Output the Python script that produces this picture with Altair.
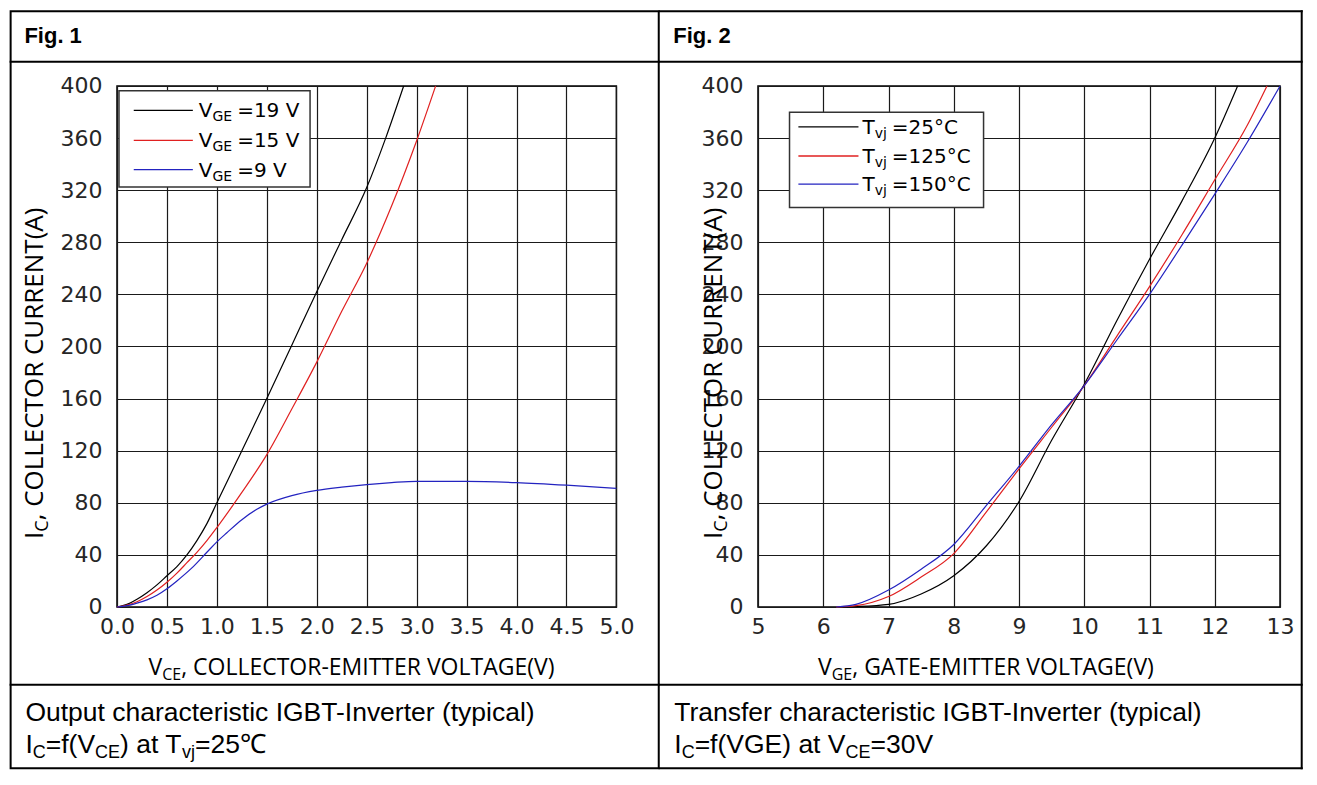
import altair as alt
import pandas as pd

# ---------------- data ----------------
# Fig. 1  Output characteristic: I_C vs V_CE
fig1_names = ["VGE=19 V", "VGE=15 V", "VGE=9 V"]
fig1_colors = ["#000000", "#e02020", "#2323c0"]
vce_19 = [0, 0.1, 0.2, 0.3, 0.4, 0.5, 0.6, 0.7, 0.8, 0.9, 1.0, 1.25, 1.5, 1.75, 2.0, 2.25, 2.5, 2.69, 2.87]
ic_19 = [0, 2, 6, 11, 17, 24, 31, 40, 51, 64, 80, 120, 160, 201, 242, 282, 322, 360, 400]
vce_15 = [0, 0.1, 0.2, 0.3, 0.4, 0.5, 0.6, 0.7, 0.8, 0.9, 1.0, 1.25, 1.5, 1.75, 2.0, 2.25, 2.5, 2.75, 3.0, 3.19]
ic_15 = [0, 1.5, 4, 8, 13, 19, 26, 34, 42, 51, 61, 88, 117, 152, 188, 227, 264, 308, 358, 400]
vce_9 = [0, 0.1, 0.2, 0.3, 0.4, 0.5, 0.6, 0.75, 0.9, 1.0, 1.1, 1.25, 1.4, 1.5, 1.75, 2.0,
         2.25, 2.5, 2.75, 3.0, 3.5, 4.0, 4.5, 5.0]
ic_9 = [0, 1, 3, 5.5, 9, 14, 20, 30, 42, 50, 57, 67, 75, 79, 85.5, 89.5,
        92, 94, 95.5, 96.5, 96.5, 95.5, 93.5, 91]
fig1_legend_main = ["V", "V", "V"]
fig1_legend_sub = ["GE", "GE", "GE"]
fig1_legend_rest = ["=19 V", "=15 V", "=9 V"]
fig1_xticks = [0.0, 0.5, 1.0, 1.5, 2.0, 2.5, 3.0, 3.5, 4.0, 4.5, 5.0]

# Fig. 2  Transfer characteristic: I_C vs V_GE
fig2_names = ["Tvj=25C", "Tvj=125C", "Tvj=150C"]
fig2_colors = ["#000000", "#e02020", "#2323c0"]
vge_25 = [6.3, 6.5, 7.0, 7.5, 8.0, 8.5, 9.0, 9.5, 10.0, 10.5, 11.0, 11.5, 12.0, 12.35]
ic_25 = [0, 0.3, 2, 10, 24, 47, 81, 128, 171, 220, 267, 312, 360, 400]
vge_125 = [6.2, 6.5, 7.0, 7.5, 8.0, 8.5, 9.0, 9.5, 10.0, 10.5, 11.0, 11.5, 12.0, 12.5, 12.8]
ic_125 = [0, 1, 8, 23, 41, 73, 106, 138, 170, 208, 246, 286, 328, 370, 400]
vge_150 = [6.2, 6.5, 7.0, 7.5, 8.0, 8.5, 9.0, 9.5, 10.0, 10.5, 11.0, 11.5, 12.0, 12.5, 13.0]
ic_150 = [0, 2, 13, 29, 48, 78, 108, 140, 170, 205, 240, 278, 317, 357, 400]
fig2_legend_main = ["T", "T", "T"]
fig2_legend_sub = ["vj", "vj", "vj"]
fig2_legend_rest = ["=25°C", "=125°C", "=150°C"]
fig2_xticks = [5, 6, 7, 8, 9, 10, 11, 12, 13]

y_ticks = [0, 40, 80, 120, 160, 200, 240, 280, 320, 360, 400]

# ---------------- layout helpers ----------------
SX = 0.985
SY = 0.972
TOP_Y = 80  # reference y of the plot top


def fx(r, ox):
    return (r - ox) * SX


def fy(r):
    return (r - TOP_Y) * SY


ARIAL = {"I": .278, "C": .722, "=": .584, "f": .278, "(": .333, ")": .333, "V": .667,
         "E": .667, "G": .778, " ": .278, "a": .556, "t": .278, "T": .611, "v": .5, "j": .222}
OPEN = {"I": .279, "C": .632, "V": .592, "E": .556, "G": .728, ",": .246, " ": .26}
DEJA = {"V": .684, "G": .775, "E": .632, "T": .611, "v": .592, "j": .278, " ": .318}


def tw(s, table, size):
    return sum(table.get(ch, 0.6) for ch in s) * size


def one():
    return alt.Chart(alt.Data(values=[{"k": 0}]))


def txt(x, y, s, size, font, weight="normal", angle=None, color="#000000"):
    kw = dict(align="left", baseline="alphabetic", font=font, fontSize=size,
              fontWeight=weight, color=color, text=s)
    if angle is not None:
        kw["angle"] = angle
    return one().mark_text(**kw).encode(x=alt.value(x), y=alt.value(y))


def rule(x1, y1, x2, y2, color="#000000", w=2.0, cap="square"):
    return one().mark_rule(color=color, strokeWidth=w, strokeCap=cap).encode(
        x=alt.value(x1), x2=alt.value(x2), y=alt.value(y1), y2=alt.value(y2))


def box(x1, y1, x2, y2, stroke="#000000", w=2.0, fill="#ffffff", fill_op=0.0):
    return one().mark_rect(stroke=stroke, strokeWidth=w, fill=fill, fillOpacity=fill_op).encode(
        x=alt.value(x1), x2=alt.value(x2), y=alt.value(y1), y2=alt.value(y2))


def pieces_h(x0, base, parts, table, main_size, sub_size, font, sub_dy):
    out = []
    x = x0
    for s, sub in parts:
        if sub:
            out.append(txt(x, base + sub_dy, s, sub_size, font))
            x += tw(s, table, sub_size)
        else:
            out.append(txt(x, base, s, main_size, font))
            x += tw(s, table, main_size)
    return out


def series_df(names, xs, ys):
    rows = []
    for n, xv, yv in zip(names, xs, ys):
        for a, b in zip(xv, yv):
            rows.append({"x": a, "y": b, "series": n})
    return pd.DataFrame(rows)


def axis(values, fmt, pad):
    return alt.Axis(values=values, format=fmt, title=None, grid=True, gridColor="#1a1a1a",
                    gridWidth=1.2, ticks=False, domain=False, labelFont="DejaVu Sans",
                    labelFontSize=22, labelColor="#262626", labelPadding=pad,
                    labelFlush=False, labelOverlap=False)


def panel(df, names, colors, xdom, xticks, xfmt, ox, right_ref, W, fig_label,
          cap1, cap2_parts, xtitle_parts, xtitle_ref, ytitle_ref, legend, first):
    H = fy(616)
    lines = alt.Chart(df).mark_line(strokeWidth=1.2, interpolate="monotone").encode(
        x=alt.X("x:Q", scale=alt.Scale(domain=xdom, nice=False, zero=False),
                axis=axis(xticks, xfmt, 10)),
        y=alt.Y("y:Q", scale=alt.Scale(domain=[0, 400], nice=False),
                axis=axis(y_ticks, "d", 15)),
        color=alt.Color("series:N", scale=alt.Scale(domain=names, range=colors), legend=None),
    )
    layers = [lines]

    # table borders
    left_ref = 3 if first else 661
    L, R = fx(left_ref, ox), fx(right_ref, ox)
    T, B = fy(3), fy(782)
    if first:
        layers.append(box(L, T, R, B))
    else:
        layers.append(rule(L, T, R, T))
        layers.append(rule(L, B, R, B))
        layers.append(rule(R, T, R, B))
    layers.append(rule(L, fy(55), R, fy(55)))
    layers.append(rule(L, fy(696), R, fy(696)))

    # header + captions
    layers.append(txt(fx(left_ref + 14, ox), fy(36), fig_label, 22, "Liberation Sans", "bold"))
    layers.append(txt(fx(left_ref + 15, ox), fy(733), cap1, 26.5, "Liberation Sans"))
    layers += pieces_h(fx(left_ref + 15, ox), fy(766), cap2_parts, ARIAL, 26.5, 18,
                       "Liberation Sans", 5)

    # x axis title
    layers += pieces_h(fx(xtitle_ref, ox), fy(686), xtitle_parts, OPEN, 23, 16,
                       "Open Sans", 5)

    # y axis title (rotated)
    bx = fx(ytitle_ref, ox)
    by = fy(546)
    layers.append(txt(bx, by, "I", 26, "Open Sans", angle=270))
    w1 = tw("I", OPEN, 26)
    layers.append(txt(bx + 5, by - w1, "C", 18, "Open Sans", angle=270))
    w2 = tw("C", OPEN, 18)
    layers.append(txt(bx, by - w1 - w2, ", COLLECTOR CURRENT(A)", 26, "Open Sans", angle=270))

    # legend box
    (bx1, by1, bx2, by2, rows, lx1, lx2, tx0, mains, subs, rests) = legend
    layers.append(box(fx(bx1, ox), fy(by1), fx(bx2, ox), fy(by2), stroke="#333333", w=1.5,
                      fill="#ffffff", fill_op=1.0))
    for i, rc in enumerate(rows):
        cy = fy(rc)
        layers.append(rule(fx(lx1, ox), cy, fx(lx2, ox), cy, color=colors[i], w=1.3, cap="butt"))
        x = fx(tx0, ox)
        layers.append(txt(x, cy + 7, mains[i], 20, "DejaVu Sans"))
        x += tw(mains[i], DEJA, 20)
        layers.append(txt(x, cy + 11, subs[i], 14, "DejaVu Sans"))
        x += tw(subs[i], DEJA, 14) + 5
        layers.append(txt(x, cy + 7, rests[i], 20, "DejaVu Sans"))

    return alt.layer(*layers).properties(width=W, height=H)


df1 = series_df(fig1_names, [vce_19, vce_15, vce_9], [ic_19, ic_15, ic_9])
df2 = series_df(fig2_names, [vge_25, vge_125, vge_150], [ic_25, ic_125, ic_150])

p1 = panel(
    df1, fig1_names, fig1_colors, [0, 5], fig1_xticks, ".1f", 111, 661, fx(618, 111), "Fig. 1",
    "Output characteristic IGBT-Inverter (typical)",
    [("I", False), ("C", True), ("=f(V", False), ("CE", True), (") at T", False),
     ("vj", True), ("=25℃", False)],
    [("V", False), ("CE", True), (", COLLECTOR-EMITTER VOLTAGE(V)", False)], 143, 36,
    (113, 85, 307, 184, [105, 136, 166], 128, 188, 194,
     fig1_legend_main, fig1_legend_sub, fig1_legend_rest),
    True,
)
p2 = panel(
    df2, fig2_names, fig2_colors, [5, 13], fig2_xticks, "d", 761, 1313, fx(1291, 761), "Fig. 2",
    "Transfer characteristic IGBT-Inverter (typical)",
    [("I", False), ("C", True), ("=f(VGE) at V", False), ("CE", True), ("=30V", False)],
    [("V", False), ("GE", True), (", GATE-EMITTER VOLTAGE(V)", False)], 822, 724,
    (793, 107, 990, 205, [122, 152, 181], 802, 863, 867,
     fig2_legend_main, fig2_legend_sub, fig2_legend_rest),
    False,
)

chart = alt.hconcat(p1, p2, spacing=-4).properties(padding=0, background="#ffffff").configure_view(
    stroke="#000000", strokeWidth=1.5)

chart.save("out.html", embed_options={"renderer": "svg", "actions": False})
